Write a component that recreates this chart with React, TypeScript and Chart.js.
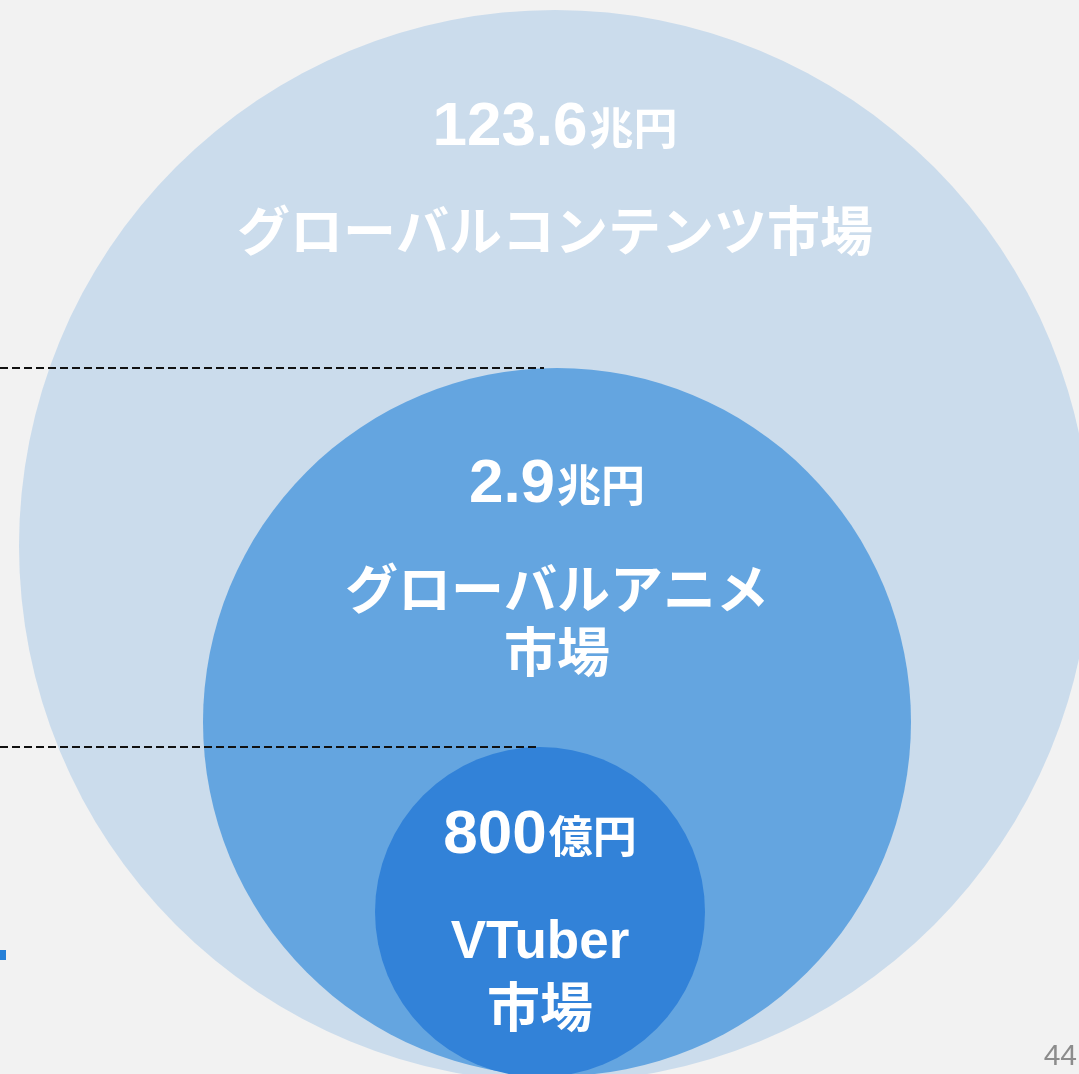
import React, { useEffect, useRef } from "react";
import { Chart, registerables } from "chart.js";

Chart.register(...registerables);

// ---- data ----
const markets = ["グローバルコンテンツ市場", "グローバルアニメ市場", "VTuber市場"];
const valueLabels = ["123.6", "2.9", "800"];
const unitLabels = ["兆円", "兆円", "億円"];
const labelLines = [["グローバルコンテンツ市場"], ["グローバルアニメ", "市場"], ["VTuber", "市場"]];
const bubbleX = [555, 557, 540];
const bubbleY = [546, 722, 912];
const bubbleR = [536, 354, 165];
const pageNumber = "44";

// ---- styles ----
const W = 1079;
const H = 1074;
const BG = "#f2f2f2";
const colors = ["#cbdcec", "#64a5e0", "#3282d8"];
const numberOffset = [135, 134, 106];
const labelOffset = [241, 241, 211];
const lineHeights = [63, 63, 69];
const lineEndInset = [0, 13, 4];
const NUM_FONT = "bold 62px 'Liberation Sans', Arial, sans-serif";
const UNIT_FONT = "bold 44px 'Noto Sans CJK JP', sans-serif";
const LABEL_FONT = "bold 53px 'Liberation Sans', 'Noto Sans CJK JP', sans-serif";

const overlayPlugin = {
  id: "overlay",
  afterDatasetsDraw(chart: any) {
    const ctx = chart.ctx as CanvasRenderingContext2D;
    const meta = chart.getDatasetMeta(0);
    ctx.save();
    // dashed guide lines to the tops of the inner circles
    ctx.setLineDash([8, 4]);
    ctx.lineWidth = 2;
    ctx.strokeStyle = "#111111";
    [1, 2].forEach((i) => {
      const el = meta.data[i];
      const r = el.options.radius;
      const y = Math.round(el.y - r);
      ctx.beginPath();
      ctx.moveTo(0, y);
      ctx.lineTo(el.x - lineEndInset[i], y);
      ctx.stroke();
    });
    ctx.setLineDash([]);

    // labels
    ctx.fillStyle = "#ffffff";
    ctx.textBaseline = "alphabetic";
    meta.data.forEach((el: any, i: number) => {
      const r = el.options.radius;
      const top = el.y - r;
      const cx = el.x;
      ctx.font = NUM_FONT;
      const nw = ctx.measureText(valueLabels[i]).width;
      ctx.font = UNIT_FONT;
      const uw = ctx.measureText(unitLabels[i]).width;
      const total = nw + 2 + uw;
      const sx = cx - total / 2;
      const by = top + numberOffset[i];
      ctx.textAlign = "left";
      ctx.font = NUM_FONT;
      ctx.fillText(valueLabels[i], sx, by);
      ctx.font = UNIT_FONT;
      ctx.fillText(unitLabels[i], sx + nw + 2, by);

      ctx.textAlign = "center";
      ctx.font = LABEL_FONT;
      labelLines[i].forEach((line, j) => {
        ctx.fillText(line, cx, top + labelOffset[i] + j * lineHeights[i]);
      });
    });
    ctx.restore();
  },
  afterDraw(chart: any) {
    const ctx = chart.ctx as CanvasRenderingContext2D;
    ctx.save();
    ctx.fillStyle = "#2680d8";
    ctx.fillRect(0, 950, 6, 10);
    ctx.fillStyle = "#8c8c8c";
    ctx.font = "30px 'Liberation Sans', Arial, sans-serif";
    ctx.textAlign = "right";
    ctx.textBaseline = "alphabetic";
    ctx.fillText(pageNumber, 1077, 1065);
    ctx.restore();
  },
};

export default function App() {
  const canvasRef = useRef<HTMLCanvasElement | null>(null);

  useEffect(() => {
    document.body.style.margin = "0";
    document.body.style.background = BG;
    const canvas = canvasRef.current;
    if (!canvas) return;
    const chart = new Chart(canvas, {
      type: "bubble",
      data: {
        labels: markets,
        datasets: [
          {
            label: "市場規模",
            data: markets.map((_, i) => ({ x: bubbleX[i], y: bubbleY[i], r: bubbleR[i] })),
            backgroundColor: colors,
            hoverBackgroundColor: colors,
            borderWidth: 0,
            hoverBorderWidth: 0,
            clip: false as any,
          },
        ],
      },
      options: {
        animation: false,
        responsive: false,
        devicePixelRatio: 1,
        layout: { padding: 0, autoPadding: false },
        events: [],
        plugins: {
          legend: { display: false },
          tooltip: { enabled: false },
          title: { display: false },
        },
        scales: {
          x: { type: "linear", min: 0, max: W, display: false },
          y: { type: "linear", min: 0, max: H, reverse: true, display: false },
        },
      },
      plugins: [overlayPlugin],
    });
    return () => chart.destroy();
  }, []);

  return (
    <div style={{ position: "fixed", left: 0, top: 0, width: W, height: H, background: BG }}>
      <canvas ref={canvasRef} width={W} height={H} style={{ display: "block", width: W, height: H }} />
    </div>
  );
}
